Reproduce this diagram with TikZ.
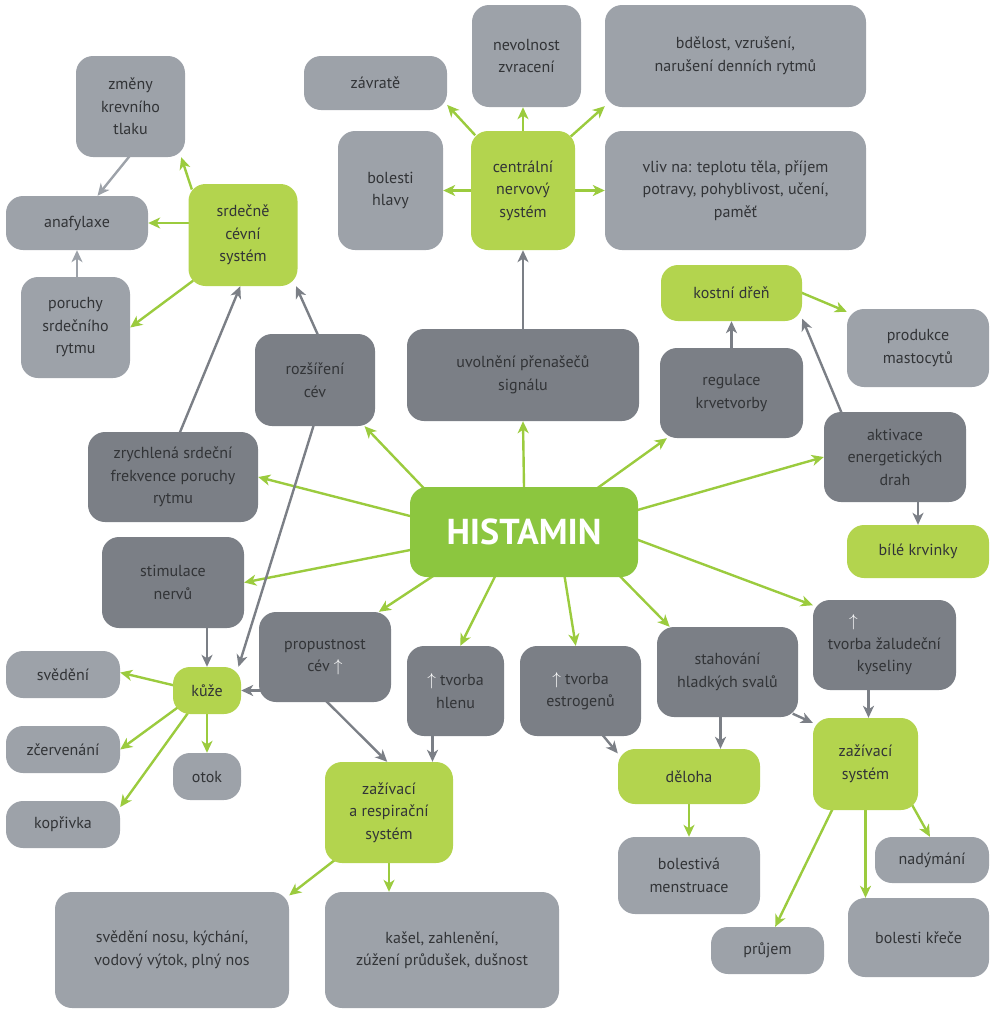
\documentclass[tikz,border=0pt]{standalone}
\usepackage{fontspec}
\setmainfont{PT Sans}
\usepackage{xcolor}
\usetikzlibrary{arrows.meta,backgrounds}
\definecolor{graylight}{HTML}{9DA2A9}
\definecolor{graydark}{HTML}{7B7F86}
\definecolor{greenlight}{HTML}{B3D44E}
\definecolor{greenmain}{HTML}{8CC63F}
\definecolor{greenarrow}{HTML}{9BCB3E}
\definecolor{textdark}{HTML}{323437}
\newcommand{\uparr}{\textcolor{white}{\fontsize{18}{18}\selectfont$\uparrow$}}
\tikzset{every node/.append style={font=\fontsize{16}{22.5}\selectfont},
  box/.style={rounded corners=17pt,align=center,text=textdark,inner sep=0pt},
  wh/.style 2 args={minimum width=#1,minimum height=#2},
  lbox/.style={box,fill=graylight},
  dbox/.style={box,fill=graydark},
  gbox/.style={box,fill=greenlight},
  hbox/.style={box,fill=greenmain,text=white,font=\bfseries\fontsize{36}{40}\selectfont},
  garr/.style={->,draw=greenarrow,line width=2.4pt,shorten <=-6pt},
  darr/.style={->,draw=graydark,line width=2.4pt,shorten <=-6pt},
  larr/.style={->,draw=graylight,line width=2.4pt,shorten <=-6pt}}

\begin{document}
\begin{tikzpicture}[x=1pt,y=-1pt,>={Stealth[length=12pt,width=11pt,inset=3.5pt]}]
\useasboundingbox (0,0) rectangle (997,1010);
\node[lbox,wh={143}{54}] (zavrate) at (375.5,83) {závratě};
\node[lbox,wh={109}{102}] (nevolnost) at (526.5,56) {nevolnost\\zvracení};
\node[lbox,wh={261}{102}] (bdelost) at (735.5,56) {bdělost, vzrušení,\\narušení denních rytmů};
\node[lbox,wh={105}{119}] (bolesti) at (390.5,190.5) {bolesti\\hlavy};
\node[gbox,wh={104}{119}] (cns) at (523,190.5) {centrální\\nervový\\systém};
\node[lbox,wh={261}{119}] (vliv) at (735.5,190.5) {vliv na: teplotu těla, příjem\\potravy, pohyblivost, učení,\\paměť};
\node[lbox,wh={109}{101}] (zmeny) at (130.5,106.5) {změny\\krevního\\tlaku};
\node[lbox,wh={142}{54}] (anafylaxe) at (77,223) {anafylaxe};
\node[gbox,wh={109}{102}] (srdce) at (243,235) {srdečně\\cévní\\systém};
\node[lbox,wh={109}{101}] (poruchy) at (75.5,327.5) {poruchy\\srdečního\\rytmu};
\node[dbox,wh={120}{92}] (rozs) at (315,380) {rozšíření\\cév};
\node[dbox,wh={232}{92}] (uvolneni) at (523,375) {uvolnění přenašečů\\signálu};
\node[gbox,wh={141}{56}] (kostni) at (731.5,293) {kostní dřeň};
\node[lbox,wh={142}{78}] (produkce) at (918,348) {produkce\\mastocytů};
\node[dbox,wh={143}{90}] (regulace) at (731.5,393) {regulace\\krvetvorby};
\node[dbox,wh={142}{90}] (aktivace) at (895,457) {aktivace\\energetických\\drah};
\node[gbox,wh={142}{53}] (krvinky) at (918,551.5) {bílé krvinky};
\node[dbox,wh={170}{90}] (zrychlena) at (173,477) {zrychlená srdeční\\frekvence poruchy\\rytmu};
\node[hbox,wh={228}{90}] (hist) at (524,532) {HISTAMIN};
\node[dbox,wh={142}{91}] (stimulace) at (173,582.5) {stimulace\\nervů};
\node[dbox,wh={132}{90}] (propustnost) at (325,657) {propustnost\\cév \uparr};
\node[lbox,wh={114}{47}] (svedeni) at (63,674.5) {svědění};
\node[gbox,wh={68}{47}] (kuze) at (207,690.5) {kůže};
\node[lbox,wh={114}{47}] (zcervenani) at (63,749.5) {zčervenání};
\node[lbox,wh={68}{47}] (otok) at (207,776.5) {otok};
\node[lbox,wh={114}{47}] (koprivka) at (63,824.5) {kopřivka};
\node[dbox,wh={97}{90}] (hlen) at (455.5,691) {\uparr\ tvorba\\hlenu};
\node[dbox,wh={121}{90}] (estrogen) at (580.5,691) {\uparr\ tvorba\\estrogenů};
\node[dbox,wh={141}{90}] (stahovani) at (727.5,672) {stahování\\hladkých svalů};
\node[dbox,wh={143}{90}] (zaludek) at (884.5,645) {\hspace*{-62pt}\uparr\\tvorba žaludeční\\kyseliny};
\node[gbox,wh={128}{101}] (zazresp) at (389,812.5) {zažívací\\a respirační\\systém};
\node[gbox,wh={142}{55}] (deloha) at (689,776.5) {děloha};
\node[gbox,wh={105}{92}] (zazivaci) at (865.5,764) {zažívací\\systém};
\node[lbox,wh={142}{77}] (bolestiva) at (689,875.5) {bolestivá\\menstruace};
\node[lbox,wh={114}{46}] (nadymani) at (932,860) {nadýmání};
\node[lbox,wh={113}{47}] (prujem) at (767.5,950.5) {průjem};
\node[lbox,wh={141}{79}] (krece) at (918.5,937.5) {bolesti křeče};
\node[lbox,wh={234}{116}] (nos) at (172,950) {svědění nosu, kýchání,\\vodový výtok, plný nos};
\node[lbox,wh={234}{116}] (kasel) at (442,950) {kašel, zahlenění,\\zúžení průdušek, dušnost};
\begin{scope}[on background layer]
\draw[garr] (hist.156) -- (rozs.317);
\draw[garr] (hist.north) -- (uvolneni.south);
\draw[garr] (hist.31) -- (regulace.215);
\draw[garr] (hist.11) -- (aktivace.west);
\draw[garr] (hist.172) -- (zrychlena.east);
\draw[garr] (hist.189) -- (stimulace.east);
\draw[garr] (hist.206) -- (propustnost.40);
\draw[garr] (hist.237) -- (hlen.84);
\draw[garr] (hist.312) -- (estrogen.96);
\draw[garr] (hist.335) -- (stahovani.142);
\draw[garr] (hist.356) -- (zaludek.151);
\draw[darr] (uvolneni.north) -- (cns.south);
\draw[darr] (rozs.87) -- (srdce.316);
\draw[darr] (zrychlena.81) -- (srdce.267);
\draw[darr] (rozs.268) -- (kuze.37);
\draw[darr] (stimulace.south -| kuze) -- (kuze.north);
\draw[darr] (propustnost.west |- kuze) -- (kuze.east);
\draw[darr] (propustnost.273) -- (zazresp.92);
\draw[darr] ([xshift=-23pt]hlen.south) -- ([xshift=-23pt]hlen.south |- zazresp.north);
\draw[darr] (estrogen.297) -- (deloha.162);
\draw[darr] ([xshift=-7pt]stahovani.south) -- ([xshift=-7pt]stahovani.south |- deloha.north);
\draw[darr] (stahovani.328) -- (zazivaci.142);
\draw[darr] ([xshift=-16pt]zaludek.south) -- ([xshift=-16pt]zaludek.south |- zazivaci.north);
\draw[darr] (regulace.north) -- (regulace.north |- kostni.south);
\draw[darr] (aktivace.140) -- (kostni.340);
\draw[darr] (aktivace.south -| krvinky) -- (krvinky.north);
\draw[larr] (zmeny.268) -- (anafylaxe.53);
\draw[larr] (anafylaxe.south |- poruchy.north) -- (anafylaxe.south);
\draw[garr] (cns.131) -- (zavrate.343);
\draw[garr] (cns.north) -- (cns.north |- nevolnost.south);
\draw[garr] (cns.48) -- (bdelost.201);
\draw[garr] (cns.west) -- (bolesti.east);
\draw[garr] (cns.east) -- (vliv.west);
\draw[garr] (srdce.136) -- (zmeny.315);
\draw[garr] (srdce.west |- anafylaxe) -- (anafylaxe.east);
\draw[garr] (srdce.222) -- (poruchy.east);
\draw[garr] (kostni.east) -- (produkce.153);
\draw[garr] (kuze.171) -- (svedeni.2);
\draw[garr] (kuze.211) -- (zcervenani.east);
\draw[garr] (kuze.230) -- (koprivka.17);
\draw[garr] (kuze.south) -- (otok.north);
\draw[garr] (zazresp.221) -- (nos.25);
\draw[garr] (zazresp.south) -- (zazresp.south |- kasel.north);
\draw[garr] (deloha.south) -- (bolestiva.north);
\draw[garr] (zazivaci.234) -- (prujem.72);
\draw[garr] (zazivaci.south) -- (zazivaci.south |- krece.north);
\draw[garr] (zazivaci.317) -- (nadymani.95);
\end{scope}
\end{tikzpicture}
\end{document}
